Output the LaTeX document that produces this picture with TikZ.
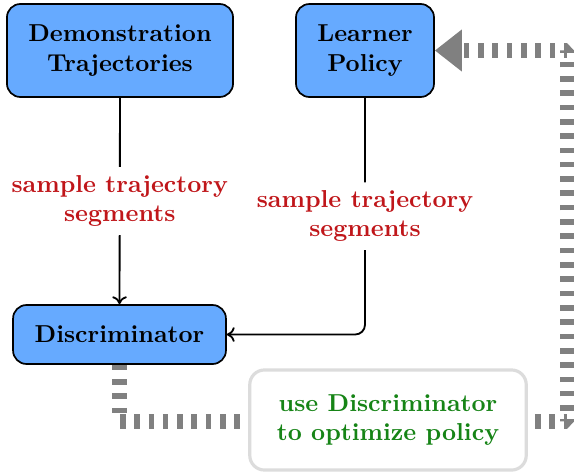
\documentclass[tikz,border=0pt]{standalone}
\usetikzlibrary{arrows.meta,backgrounds}
\definecolor{boxblue}{RGB}{102,170,255}
\definecolor{lblred}{RGB}{192,22,26}
\definecolor{lblgreen}{RGB}{22,132,22}
\definecolor{flowgray}{RGB}{128,128,128}
\definecolor{optborder}{RGB}{220,220,220}
\tikzset{
  bluebox/.style={draw=black, line width=0.7pt, fill=boxblue, rounded corners=5.5pt,
    align=center, font=\bfseries, inner sep=0pt},
  redlbl/.style={fill=white, text=lblred, font=\bfseries, align=center},
  optbox/.style={draw=optborder, line width=1.3pt, fill=white, rounded corners=6pt,
    align=center, text=lblgreen, font=\bfseries, inner sep=0pt},
  flow/.style={draw=flowgray, line width=5.9pt, line join=bevel, dash pattern=on 2.3pt off 3.55pt},
  conn/.style={draw=black, line width=0.75pt, -{To[length=3.2pt,width=6pt]}}
}
\begin{document}
\begin{tikzpicture}[x=0.4087pt, y=-0.4087pt]
\useasboundingbox (0,0) rectangle (574,472);
\node[bluebox, minimum width=92.4pt, minimum height=38pt] (demo) at (120,50.5)
  {Demonstration\\Trajectories};
\node[bluebox, minimum width=56.4pt, minimum height=38pt] (learner) at (365,50.5)
  {Learner\\Policy};
\node[bluebox, minimum width=87pt, minimum height=24.1pt] (disc) at (119.5,334.5)
  {Discriminator};
\node[optbox, minimum width=113pt, minimum height=40.9pt] (opt) at (388,420)
  {use Discriminator\\to optimize policy};
\coordinate (rc) at (567,50.5);
\coordinate (lc) at (119.5,421.7);
\coordinate (bc) at (567,421.7);
\draw[conn] (demo.south) -- node[redlbl] (l1) {sample trajectory\\segments} (disc.north);
\draw[conn, rounded corners=4pt] (learner.south) |- node[redlbl, pos=0.25] (l2) {sample trajectory\\segments} (disc.east);
\begin{scope}[on background layer]
\draw[flow, -{Triangle[length=11pt,width=16.4pt]}] (disc.south) -- (lc) -- (bc) -- (rc) -- (learner.east);
\end{scope}
\end{tikzpicture}
\end{document}
